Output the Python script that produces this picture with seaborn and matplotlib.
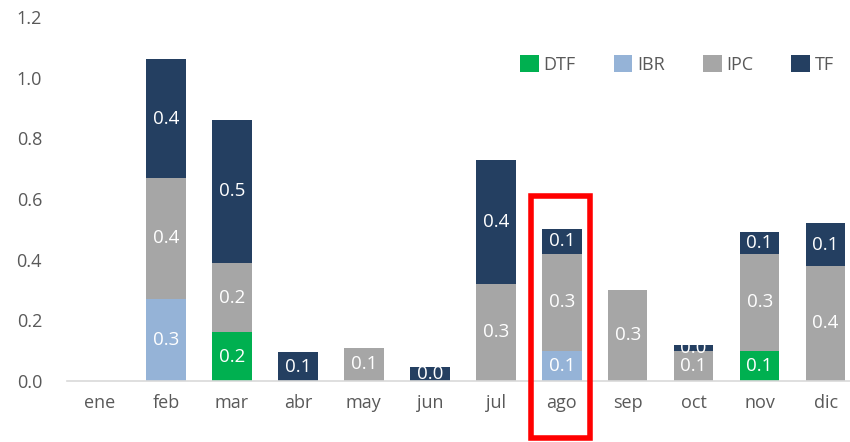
import matplotlib.pyplot as plt
import matplotlib.patches as mpatches
import numpy as np
import seaborn as sb

meses = ['ene', 'feb', 'mar', 'abr', 'may', 'jun', 'jul', 'ago', 'sep', 'oct', 'nov', 'dic']
dtf = [0, 0, 0.16, 0, 0, 0, 0, 0, 0, 0, 0.10, 0]
ibr = [0, 0.27, 0, 0, 0, 0, 0, 0.10, 0, 0, 0, 0]
ipc = [0, 0.40, 0.23, 0, 0.11, 0, 0.32, 0.32, 0.30, 0.10, 0.32, 0.38]
tf = [0, 0.39, 0.47, 0.095, 0, 0.045, 0.41, 0.08, 0, 0.02, 0.07, 0.14]

series = [('DTF', dtf, '#00B050'), ('IBR', ibr, '#95B3D7'),
          ('IPC', ipc, '#A6A6A6'), ('TF', tf, '#243F61')]

sb.set_style('white')
plt.rcParams['font.family'] = ['Open Sans', 'DejaVu Sans']

fig = plt.figure(figsize=(8.5, 4.42), dpi=100)
ax = fig.add_axes([67 / 850, 61 / 442, 783 / 850, 364 / 442])

bottom = np.zeros(len(meses))
for name, vals, col in series:
    vals = np.array(vals, dtype=float)
    sb.barplot(x=meses, y=vals, bottom=bottom, color=col, width=0.6,
               label=name, ax=ax, linewidth=0, saturation=1)
    cont = ax.containers[-1]
    ax.bar_label(cont, labels=['' if v == 0 else f'{v:.1f}' for v in vals],
                 label_type='center', color='white', fontsize=13.5)
    bottom += vals

ax.set_ylim(0, 1.2)
ax.set_xlim(-0.5, 11.37)
ax.set_yticks(np.arange(0, 1.21, 0.2))
ax.set_yticklabels([f'{v:.1f}' for v in np.arange(0, 1.21, 0.2)])
ax.tick_params(axis='both', colors='#595959', labelsize=13, length=0)
ax.tick_params(axis='y', pad=18)
ax.tick_params(axis='x', pad=9)
for s in ['top', 'right', 'left']:
    ax.spines[s].set_visible(False)
ax.spines['bottom'].set_color('#D9D9D9')
ax.spines['bottom'].set_linewidth(1.2)
ax.set_xlabel('')
ax.set_ylabel('')

ax.legend(loc='upper right', bbox_to_anchor=(1.0, 0.94), ncol=4, frameon=False,
          fontsize=13, labelcolor='#595959', handlelength=1.05, handleheight=1.05,
          handletextpad=0.25, columnspacing=2.1)

# recuadro rojo en agosto
rect = mpatches.Rectangle((531 / 850, 4 / 442), 59 / 850, 242 / 442,
                          transform=fig.transFigure, fill=False,
                          edgecolor='#FF0000', linewidth=4)
fig.patches.append(rect)

plt.savefig('out.png', dpi=100)
